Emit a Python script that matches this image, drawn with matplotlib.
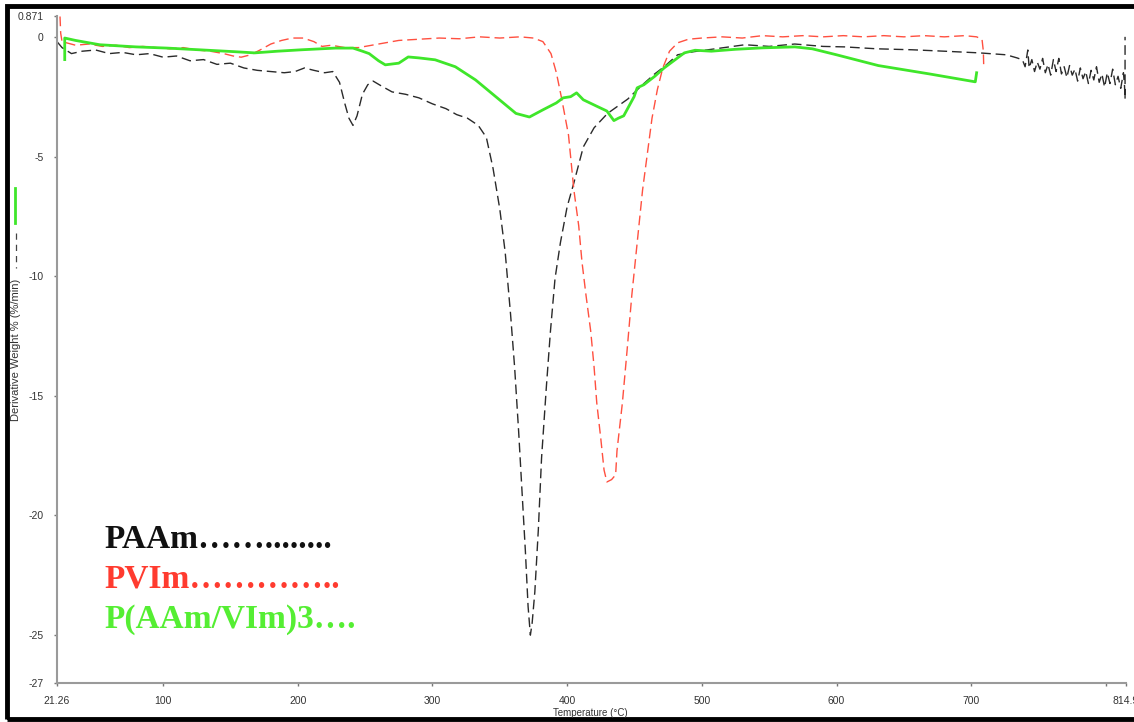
import matplotlib
matplotlib.use('Agg')
import matplotlib.pyplot as plt
from matplotlib.lines import Line2D
from matplotlib.patches import Rectangle

# PAAm derivative weight curve (temperature in C, %/min)
paam_temp = [21.26, 25, 32, 40, 50, 60, 70, 80, 90, 100, 110, 120, 130, 140, 150,
             160, 170, 180, 190, 198, 205, 212, 220, 226, 231, 235, 238, 241, 244,
             248, 252, 256, 262, 270, 280, 290, 300, 310, 318, 326, 334, 340, 345,
             350, 354, 358, 361, 364, 366, 369, 371, 372.7, 374, 376, 378.6, 381,
             384.6, 387.6, 391, 395, 400, 405, 412, 420, 430, 445, 455, 465, 472,
             482, 494, 510, 532, 550, 569, 590, 606, 630, 656, 680, 706, 726, 734,
             738, 740, 742, 743, 745, 747, 749, 751, 753, 755, 757, 759, 761, 763,
             765, 767, 769, 771, 773, 775, 777, 779, 781, 783, 785, 787, 789, 791,
             793, 795, 797, 799, 801, 803, 805, 807, 809, 811, 813, 813.8, 814.2,
             814.2]
paam_dw = [-0.2, -0.45, -0.7, -0.6, -0.55, -0.7, -0.65, -0.75, -0.7, -0.85, -0.8,
           -1.0, -0.95, -1.15, -1.1, -1.3, -1.4, -1.45, -1.5, -1.45, -1.3, -1.4,
           -1.5, -1.45, -1.9, -2.8, -3.4, -3.7, -3.3, -2.4, -2.0, -1.85, -2.05,
           -2.3, -2.4, -2.55, -2.8, -3.0, -3.25, -3.4, -3.7, -4.2, -5.5, -7.2,
           -9.0, -11.6, -13.8, -16.5, -18.5, -21.5, -23.8, -25.0, -24.5, -23.2,
           -20.6, -17.6, -14.6, -12.3, -10.1, -8.6, -7.1, -6.1, -4.6, -3.8, -3.2,
           -2.6, -2.05, -1.55, -1.25, -0.75, -0.62, -0.5, -0.33, -0.4, -0.3, -0.4,
           -0.42, -0.5, -0.54, -0.6, -0.67, -0.75, -0.88, -0.96, -1.25, -0.55,
           -1.3, -0.95, -1.45, -1.05, -1.35, -0.9, -1.5, -1.15, -1.6, -0.95,
           -1.45, -0.9, -1.55, -1.25, -1.7, -1.2, -1.6, -1.35, -1.85, -1.3, -1.75,
           -1.45, -1.95, -1.4, -1.8, -1.25, -1.9, -1.55, -2.1, -1.5, -1.95, -1.35,
           -2.0, -1.65, -2.15, -1.5, -2.05, -2.6, 0.0]

# PVIm curve
pvim_temp = [23.5, 24, 25, 35, 45, 55, 65, 75, 85, 95, 105, 115, 125, 135, 145,
             152, 158, 165, 172, 180, 188, 196, 204, 212, 218, 225, 235, 245, 255,
             265, 275, 290, 305, 320, 335, 350, 365, 375, 382, 388, 392, 396, 401,
             405, 408.6, 411, 414, 417.5, 420, 422, 425, 427.4, 429.5, 433, 436,
             437, 441, 444.5, 448, 452, 456, 459.5, 463, 467, 471, 476, 482, 490,
             500, 515, 530, 545, 560, 575, 590, 605, 620, 635, 650, 665, 680, 695,
             704, 708, 709, 709.3]
pvim_dw = [0.85, 0.15, -0.2, -0.35, -0.3, -0.4, -0.35, -0.45, -0.4, -0.45, -0.5,
           -0.45, -0.55, -0.6, -0.7, -0.8, -0.85, -0.75, -0.55, -0.3, -0.15, -0.05,
           -0.05, -0.2, -0.4, -0.35, -0.45, -0.45, -0.35, -0.25, -0.15, -0.1,
           -0.05, -0.08, 0.0, -0.05, 0.0, -0.05, -0.2, -0.7, -1.5, -2.6, -4.1,
           -6.4, -7.9, -9.4, -10.8, -12.3, -13.8, -15.3, -16.8, -18.1, -18.6,
           -18.5, -18.3, -17.3, -15.3, -13.1, -10.8, -8.6, -6.4, -4.9, -3.4, -2.2,
           -1.3, -0.6, -0.25, -0.1, -0.05, 0.0, -0.05, 0.05, 0.0, 0.05, 0.0, 0.05,
           0.0, 0.05, 0.0, 0.05, 0.0, 0.05, 0.0, -0.1, -0.6, -1.3]

# P(AAm/VIm)3 curve
copo_temp = [27, 27, 35, 53, 80, 103, 130, 153, 168, 185, 203, 228, 241, 248, 253,
             260, 265, 275, 282, 290, 302, 317, 332, 347, 362, 372, 382, 392, 397,
             402.6, 407, 412, 422, 429.5, 434.7, 438, 442, 449.7, 452, 457, 465,
             472, 477, 487, 495, 507, 525, 545, 569, 582, 600, 631, 669, 703, 704]
copo_dw = [-0.95, -0.05, -0.15, -0.33, -0.42, -0.47, -0.55, -0.62, -0.67, -0.6,
           -0.54, -0.47, -0.47, -0.6, -0.7, -1.0, -1.17, -1.1, -0.84, -0.88, -0.96,
           -1.25, -1.8, -2.5, -3.2, -3.35, -3.05, -2.76, -2.55, -2.5, -2.34, -2.63,
           -2.9, -3.1, -3.5, -3.4, -3.3, -2.5, -2.13, -2.0, -1.65, -1.3, -1.09,
           -0.67, -0.56, -0.6, -0.52, -0.46, -0.42, -0.5, -0.75, -1.2, -1.55, -1.88,
           -1.5]

x_ticks = [21.26, 100, 200, 300, 400, 500, 600, 700, 800, 814.9]
x_labels = ['21.26', '100', '200', '300', '400', '500', '600', '700', '', '814.9']
y_ticks = [0.871, 0, -5, -10, -15, -20, -25, -27]
y_labels = ['0.871', '0', '-5', '-10', '-15', '-20', '-25', '-27']

legend_names = ['PAAm……........', 'PVIm…………..', 'P(AAm/VIm)3….']
legend_colors = ['#111111', '#ff3b2f', '#55ee33']

W, H = 1134, 722
fig = plt.figure(figsize=(W / 100, H / 100), dpi=100)
ax = fig.add_axes([57 / W, 1 - 683 / H, (1126 - 57) / W, (683 - 16) / H])

ax.plot(paam_temp, paam_dw, color='#2a2a2a', lw=1.0, dashes=(7, 3.5))
ax.plot(pvim_temp, pvim_dw, color='#ff5040', lw=1.0, dashes=(7, 3.5))
ax.plot(copo_temp, copo_dw, color='#3fe62a', lw=2.0, solid_joinstyle='round')

ax.set_xlim(21.26, 814.9)
ax.set_ylim(-27, 0.871)

# only left/bottom axis lines, grey like the TA software
for s in ['top', 'right']:
    ax.spines[s].set_visible(False)
for s in ['left', 'bottom']:
    ax.spines[s].set_color('#9a9a9a')
    ax.spines[s].set_linewidth(1.5)

tick_font = dict(family='Liberation Sans', size=7.5)
ax.set_xticks(x_ticks)
ax.set_xticklabels(x_labels, **tick_font, color='#333333')
ax.set_yticks(y_ticks)
ax.set_yticklabels(y_labels, **tick_font, color='#333333')
ax.tick_params(axis='both', direction='out', length=2.5, width=1, color='#777777')
ax.tick_params(axis='x', pad=7)
ax.tick_params(axis='y', pad=7)

fig.text(590 / W, 1 - 713 / H, 'Temperature (°C)', ha='center', va='center',
         family='Liberation Sans', size=7, color='#333333')
fig.text(16 / W, 1 - 350 / H, 'Derivative Weight % (%/min)', rotation=90,
         ha='center', va='center', family='Liberation Sans', size=8, color='#333333')
# little line samples next to the y label
fig.add_artist(Line2D([15 / W, 15 / W], [1 - 188 / H, 1 - 223 / H],
                      color='#3fe62a', lw=2, transform=fig.transFigure))
fig.add_artist(Line2D([16 / W, 16 / W], [1 - 233 / H, 1 - 268 / H],
                      color='#444444', lw=0.9, dashes=(5, 4), transform=fig.transFigure))

# hand-made legend in bold serif
for i, (name, col) in enumerate(zip(legend_names, legend_colors)):
    fig.text(104 / W, 1 - (548 + 40 * i) / H, name, color=col,
             family='Liberation Serif', weight='bold', size=24, va='baseline')

# black frame round the picture
fig.add_artist(Rectangle((7 / W, 3 / H), 1.1, 1 - 9 / H, transform=fig.transFigure,
                         fill=False, ec='black', lw=3.5))

fig.savefig('out.png', dpi=100)
